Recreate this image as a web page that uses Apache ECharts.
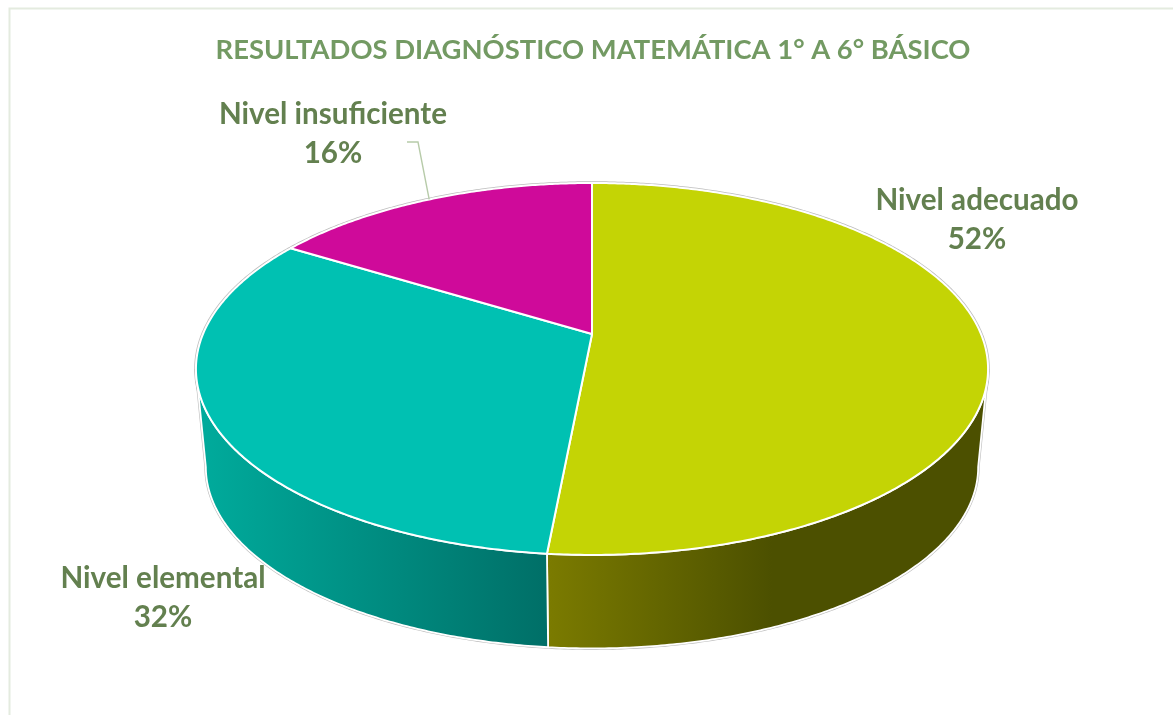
<!DOCTYPE html>
<html>
<head>
<meta charset="utf-8">
<style>html,body{margin:0;padding:0;background:#fff}#c{width:1173px;height:715px}</style>
<script src="https://cdn.jsdelivr.net/npm/echarts@6/dist/echarts.min.js"></script>
</head>
<body>
<div id="c"></div>
<script>
const titleText = 'RESULTADOS DIAGNÓSTICO MATEMÁTICA 1° A 6° BÁSICO';
const categories = ['Nivel adecuado', 'Nivel elemental', 'Nivel insuficiente'];
const values = [51.5, 32.3, 16.2];
const topColors = ['#c4d405', '#00c1b2', '#cf0a9a'];

// Presentation settings (not data)
const sideStops = [['#7b7b00', '#4c5000'], ['#00aa9b', '#006f67']];
const labelAnchors = [[977, 220], [163, 598], [333, 134]];
const P = {cx: 592, cy: 334, A: 389, B: 179.4, k: 0.188, s: 0.975, cyb: 433};
const frontFrom = 100.8, frontTo = 259.2;

const total = values.reduce((a, b) => a + b, 0);
let running = 0;
const rows = values.map((v, i) => {
  const start = running / total * 360;
  running += v;
  return [start, running / total * 360, i];
});

function topPt(t) {
  const r = t * Math.PI / 180, w = 1 + P.k * Math.cos(r);
  return [P.cx + P.A * Math.sin(r) / w, P.cy - P.B * Math.cos(r) / w];
}
function botPt(t) {
  const r = t * Math.PI / 180, w = 1 + P.k * Math.cos(r);
  return [P.cx + P.A * P.s * Math.sin(r) / w, P.cyb - P.B * P.s * Math.cos(r) / w];
}
function arc(fn, a, b) {
  const n = Math.max(2, Math.ceil(Math.abs(b - a) * 2)), out = [];
  for (let i = 0; i <= n; i++) out.push(fn(a + (b - a) * i / n));
  return out;
}

function renderHalo(params, api) {
  const a = api.value(0), b = api.value(1);
  const kids = [{type: 'polyline', shape: {points: arc(topPt, a, b)},
    style: {stroke: '#bdbdbd', lineWidth: 3.5, fill: null}}];
  const f0 = Math.max(a, frontFrom), f1 = Math.min(b, frontTo);
  if (f1 > f0) {
    const pts = arc(botPt, f0, f1);
    if (f0 === frontFrom) pts.unshift(topPt(f0));
    if (f1 === frontTo) pts.push(topPt(f1));
    kids.push({type: 'polyline', shape: {points: pts},
      style: {stroke: '#bdbdbd', lineWidth: 3, fill: null}});
  }
  return {type: 'group', children: kids};
}

function renderSlice(params, api) {
  const a = api.value(0), b = api.value(1), i = api.value(2);
  const kids = [];
  const f0 = Math.max(a, frontFrom), f1 = Math.min(b, frontTo);
  if (f1 > f0) {
    const upper = arc(topPt, f0, f1), lower = arc(botPt, f0, f1).reverse();
    const xs = upper.concat(lower).map(p => p[0]);
    const minX = Math.min.apply(null, xs), maxX = Math.max.apply(null, xs);
    const x0 = i === 0 ? minX : minX + 10;
    const x1 = i === 0 ? minX + 225 : maxX;
    kids.push({type: 'polygon', shape: {points: upper.concat(lower)},
      style: {
        fill: {type: 'linear', global: true, x: x0, y: 0, x2: x1, y2: 0,
          colorStops: [{offset: 0, color: sideStops[i][0]}, {offset: 1, color: sideStops[i][1]}]},
        stroke: '#ffffff', lineWidth: 1.8, lineJoin: 'round'
      }});
  }
  kids.push({type: 'polygon',
    shape: {points: [[P.cx, P.cy]].concat(arc(topPt, a, b))},
    style: {fill: topColors[i], stroke: '#ffffff', lineWidth: 2, lineJoin: 'round'}});
  const pct = Math.round(values[i] / total * 100) + '%';
  kids.push({type: 'text', z2: 50, style: {
    text: categories[i] + '\n' + pct, x: labelAnchors[i][0], y: labelAnchors[i][1],
    align: 'center', verticalAlign: 'middle', lineHeight: 39,
    fill: '#63804f', font: 'bold 29.6px Lato'
  }});
  if (i === 2) {
    kids.push({type: 'polyline', shape: {points: [[407, 142], [418, 142], topPt(a + (b - a) * 0.5)]},
      style: {stroke: '#b7cba9', lineWidth: 1.4, fill: null}});
  }
  return {type: 'group', children: kids};
}

const chart = echarts.init(document.getElementById('c'), null, {renderer: 'canvas'});
chart.setOption({
  animation: false,
  backgroundColor: '#ffffff',
  title: {
    text: titleText, left: 588, top: 32, textAlign: 'center',
    textStyle: {color: '#739a63', fontFamily: 'Lato', fontWeight: 'bold', fontSize: 27.4}
  },
  graphic: [{type: 'rect', silent: true, shape: {x: 9.5, y: 8.5, width: 1300, height: 900},
    style: {fill: null, stroke: '#e4ebdf', lineWidth: 2}}],
  series: [
    {type: 'custom', coordinateSystem: 'none', silent: true, z: 1, data: rows, renderItem: renderHalo},
    {type: 'custom', coordinateSystem: 'none', silent: true, z: 2, data: rows, renderItem: renderSlice}
  ]
});
</script>
</body>
</html>
